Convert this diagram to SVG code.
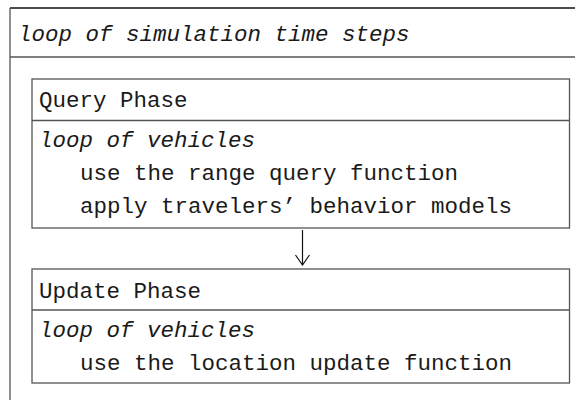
<svg xmlns="http://www.w3.org/2000/svg" width="575" height="400" viewBox="0 0 575 400">
  <style>
    .frame { fill: none; stroke: #555; stroke-width: 1.3; }
    .edge { fill: none; stroke: #111; stroke-width: 1.5; }
    .t { font-family: "Liberation Mono", "DejaVu Sans Mono", monospace; font-size: 22.5px; fill: #1a1a1a; }
    .i { font-style: italic; }
    .conn { fill: none; stroke: #111; stroke-width: 1.2; }
  </style>
  <defs>
    <marker id="open-arrow" viewBox="0 0 12 16" refX="11" refY="8" markerWidth="12" markerHeight="16" markerUnits="userSpaceOnUse" orient="auto">
      <path d="M1,1 L11,8 L1,15" fill="none" stroke="#111" stroke-width="1.2"/>
    </marker>
  </defs>
  <rect width="575" height="400" fill="#fff"/>

  <!-- outer loop frame: open on the right and bottom -->
  <g id="time-loop">
    <line class="edge" x1="10" y1="8" x2="575" y2="8"/>
    <line class="frame" x1="10" y1="8" x2="10" y2="400"/>
    <line class="frame" x1="10" y1="57" x2="575" y2="57"/>
    <text class="t i" x="18" y="41">loop of simulation time steps</text>
  </g>

  <g id="query-phase">
    <rect class="frame" x="32" y="79" width="537.5" height="149"/>
    <line class="frame" x1="32" y1="120.5" x2="569.5" y2="120.5"/>
    <text class="t" x="39" y="107">Query Phase</text>
    <text class="t i" x="39" y="147">loop of vehicles</text>
    <text class="t" x="80" y="180">use the range query function</text>
    <text class="t" x="80" y="213">apply travelers’ behavior models</text>
  </g>

  <g id="update-phase">
    <rect class="frame" x="32" y="269" width="537.5" height="114"/>
    <line class="frame" x1="32" y1="310" x2="569.5" y2="310"/>
    <text class="t" x="39" y="298">Update Phase</text>
    <text class="t i" x="39" y="337">loop of vehicles</text>
    <text class="t" x="80" y="370">use the location update function</text>
  </g>

  <g id="connectors">
    <line class="conn" x1="302.5" y1="230" x2="302.5" y2="265" marker-end="url(#open-arrow)"/>
  </g>
</svg>
